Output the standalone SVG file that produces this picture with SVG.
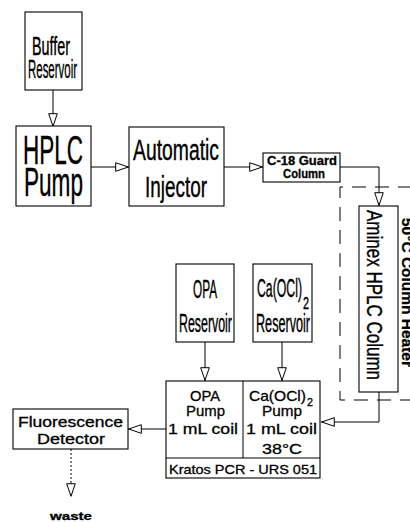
<svg xmlns="http://www.w3.org/2000/svg" width="410" height="522" viewBox="0 0 410 522">
<style>
.bx{fill:#fff;stroke:#000;stroke-width:1.1}
.ln{fill:none;stroke:#000;stroke-width:1}
.t{font-family:"Liberation Sans",Arial,sans-serif;fill:#000;stroke:#000;stroke-width:0.3}
.cn{font-family:"Liberation Sans",Arial,sans-serif;fill:#000;stroke:#000;stroke-width:0.4}
.dash{fill:none;stroke:#000;stroke-width:1;stroke-dasharray:14 9}
</style>
<defs>
<marker id="tri" viewBox="0 0 14 10" refX="14" refY="5" markerWidth="14" markerHeight="10" markerUnits="userSpaceOnUse" orient="auto">
<path d="M0.7,0.7 L13.3,5 L0.7,9.3 Z" fill="#fff" stroke="#000" stroke-width="1"/>
</marker>
</defs>
<rect width="410" height="522" fill="#fff"/>

<g id="heater">
<path class="dash" d="M412,187 H340 V400 H412"/>
<text class="t" font-size="15" font-weight="bold" transform="translate(402,218) rotate(90)" textLength="149" lengthAdjust="spacingAndGlyphs">50°C Column Heater</text>
</g>

<g id="connectors">
<path class="ln" d="M53,90 V127" marker-end="url(#tri)"/>
<path class="ln" d="M91,167 H129" marker-end="url(#tri)"/>
<path class="ln" d="M224,167 H263" marker-end="url(#tri)"/>
<path class="ln" d="M340,167 H379 V206" marker-end="url(#tri)"/>
<path class="ln" d="M379,392 V422 H321" marker-end="url(#tri)"/>
<path class="ln" d="M205,342 V381" marker-end="url(#tri)"/>
<path class="ln" d="M282,342 V381" marker-end="url(#tri)"/>
<path class="ln" d="M166,429 H128" marker-end="url(#tri)"/>
<path class="ln" d="M71,449 V497" stroke-width="0.8" stroke-dasharray="2 2" marker-end="url(#tri)"/>
</g>

<g id="buffer-reservoir">
<rect class="bx" x="25" y="12" width="57" height="78"/>
<text class="cn" x="32" y="55" font-size="25" textLength="38" lengthAdjust="spacingAndGlyphs">Buffer</text>
<text class="cn" x="28" y="78" font-size="25" textLength="49" lengthAdjust="spacingAndGlyphs">Reservoir</text>
</g>

<g id="hplc-pump">
<rect class="bx" x="16" y="126" width="75" height="80"/>
<text class="cn" x="23" y="164" font-size="41" textLength="60" lengthAdjust="spacingAndGlyphs">HPLC</text>
<text class="cn" x="24" y="196" font-size="41" textLength="59" lengthAdjust="spacingAndGlyphs">Pump</text>
</g>

<g id="automatic-injector">
<rect class="bx" x="129" y="127" width="95" height="79"/>
<text class="cn" x="133" y="160" font-size="30" textLength="86" lengthAdjust="spacingAndGlyphs">Automatic</text>
<text class="cn" x="145" y="197" font-size="30" textLength="62" lengthAdjust="spacingAndGlyphs">Injector</text>
</g>

<g id="c18-guard-column">
<rect class="bx" x="263" y="153" width="77" height="29"/>
<text class="t" x="267" y="165" font-size="12.5" font-weight="bold" textLength="70" lengthAdjust="spacingAndGlyphs">C-18 Guard</text>
<text class="t" x="283" y="178" font-size="12.5" font-weight="bold" textLength="42" lengthAdjust="spacingAndGlyphs">Column</text>
</g>

<g id="aminex-column">
<rect class="bx" x="359" y="206" width="39" height="186"/>
<text class="cn" font-size="22" transform="translate(367,210) rotate(90)" textLength="170" lengthAdjust="spacingAndGlyphs">Aminex HPLC Column</text>
</g>

<g id="opa-reservoir">
<rect class="bx" x="176" y="264" width="58" height="78"/>
<text class="cn" x="193" y="298" font-size="25" textLength="24" lengthAdjust="spacingAndGlyphs">OPA</text>
<text class="cn" x="179" y="332" font-size="25" textLength="53" lengthAdjust="spacingAndGlyphs">Reservoir</text>
</g>

<g id="caocl2-reservoir">
<rect class="bx" x="253" y="264" width="59" height="78"/>
<text class="cn" x="257" y="297" font-size="25" textLength="45" lengthAdjust="spacingAndGlyphs">Ca(OCl)</text>
<text class="cn" x="303" y="309" font-size="16" textLength="6" lengthAdjust="spacingAndGlyphs">2</text>
<text class="cn" x="256" y="332" font-size="25" textLength="54" lengthAdjust="spacingAndGlyphs">Reservoir</text>
</g>

<g id="pcr-unit">
<rect class="bx" x="166" y="381" width="154" height="97"/>
<line class="ln" x1="166" y1="458" x2="320" y2="458"/>
<line class="ln" x1="243" y1="381" x2="243" y2="458"/>
<text class="t" x="190" y="401" font-size="15" textLength="30" lengthAdjust="spacingAndGlyphs">OPA</text>
<text class="t" x="186" y="416" font-size="15" textLength="39" lengthAdjust="spacingAndGlyphs">Pump</text>
<text class="t" x="168" y="434" font-size="15" textLength="70" lengthAdjust="spacingAndGlyphs">1 mL coil</text>
<text class="t" x="249" y="401" font-size="15" textLength="57" lengthAdjust="spacingAndGlyphs">Ca(OCl)</text>
<text class="t" x="307" y="406" font-size="11" textLength="6" lengthAdjust="spacingAndGlyphs">2</text>
<text class="t" x="262" y="416" font-size="15" textLength="40" lengthAdjust="spacingAndGlyphs">Pump</text>
<text class="t" x="246" y="434" font-size="15" textLength="71" lengthAdjust="spacingAndGlyphs">1 mL coil</text>
<text class="t" x="262" y="454" font-size="15" textLength="40" lengthAdjust="spacingAndGlyphs">38°C</text>
<text class="t" x="169" y="474" font-size="13" textLength="148" lengthAdjust="spacingAndGlyphs">Kratos PCR - URS 051</text>
</g>

<g id="fluorescence-detector">
<rect class="bx" x="13" y="409" width="115" height="40"/>
<text class="t" x="18" y="427" font-size="14" textLength="105" lengthAdjust="spacingAndGlyphs">Fluorescence</text>
<text class="t" x="37" y="444" font-size="14" textLength="68" lengthAdjust="spacingAndGlyphs">Detector</text>
</g>

<g id="waste">
<text class="t" x="50" y="520" font-size="11" font-weight="bold" textLength="42" lengthAdjust="spacingAndGlyphs">waste</text>
</g>
</svg>
